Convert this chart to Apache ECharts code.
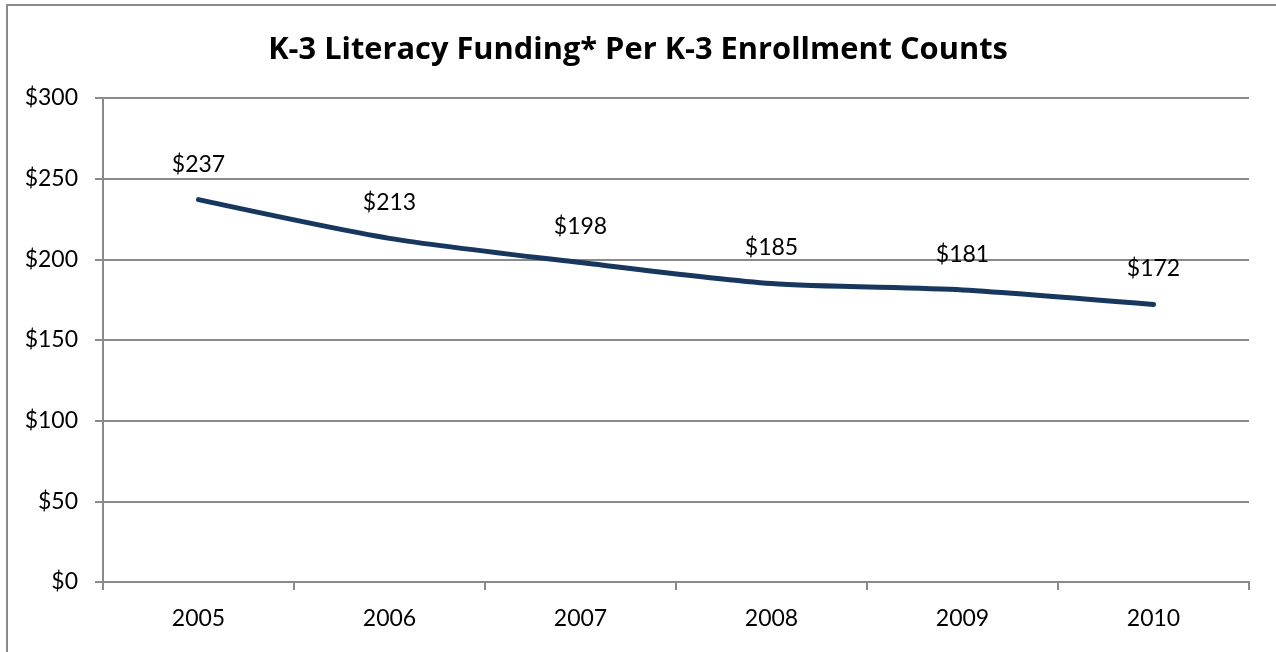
<!DOCTYPE html>
<html>
<head>
<meta charset="utf-8">
<script src="https://cdn.jsdelivr.net/npm/echarts@6/dist/echarts.min.js"></script>
<style>
  html, body { margin: 0; padding: 0; background: #fff; }
  .frame {
    position: absolute; left: 6px; top: 4px; right: 0; bottom: 0;
    border-top: 2px solid #8a8a8a; border-left: 2px solid #8a8a8a;
  }
  #chart { position: absolute; left: 0; top: 0; width: 1276px; height: 652px; }
</style>
</head>
<body>
<div class="frame"></div>
<div id="chart"></div>
<script>
// data
const years = ['2005', '2006', '2007', '2008', '2009', '2010'];
const funding = [237, 213, 198, 185, 181, 172];
const yTicks = [0, 50, 100, 150, 200, 250, 300];

const font = 'Lato, "Open Sans", sans-serif';

const myChart = echarts.init(document.getElementById('chart'));

const option = {
  animation: false,
  title: {
    text: 'K-3 Literacy Funding* Per K-3 Enrollment Counts',
    left: 'center',
    top: 30,
    textStyle: { fontFamily: '"Open Sans", sans-serif', fontSize: 30.8, fontWeight: 'bold', color: '#000' }
  },
  grid: { left: 103, right: 27, top: 98, bottom: 70 },
  xAxis: {
    type: 'category',
    data: years,
    boundaryGap: true,
    axisLine: { lineStyle: { color: '#8a8a8a', width: 2 } },
    axisTick: { show: true, length: 8, lineStyle: { color: '#8a8a8a', width: 2 } },
    axisLabel: { margin: 25, fontFamily: font, fontSize: 23, color: '#000' }
  },
  yAxis: {
    type: 'value',
    min: yTicks[0],
    max: yTicks[yTicks.length - 1],
    interval: 50,
    axisLine: { show: true, lineStyle: { color: '#8a8a8a', width: 2 } },
    axisTick: { show: true, inside: false, length: 8, lineStyle: { color: '#8a8a8a', width: 2 } },
    splitLine: { lineStyle: { color: '#8a8a8a', width: 2 } },
    axisLabel: {
      margin: 25, fontFamily: font, fontSize: 23, color: '#000',
      formatter: v => '$' + v
    }
  },
  series: [
    {
      type: 'line',
      data: funding,
      smooth: 0.25,
      symbol: 'circle',
      symbolSize: 2,
      showSymbol: true,
      itemStyle: { color: '#17375E' },
      lineStyle: { color: '#17375E', width: 5, cap: 'round' },
      label: {
        show: true,
        position: 'top',
        distance: 23,
        fontFamily: font,
        fontSize: 23,
        color: '#000',
        formatter: p => '$' + p.value
      }
    }
  ]
};

myChart.setOption(option);
</script>
</body>
</html>
